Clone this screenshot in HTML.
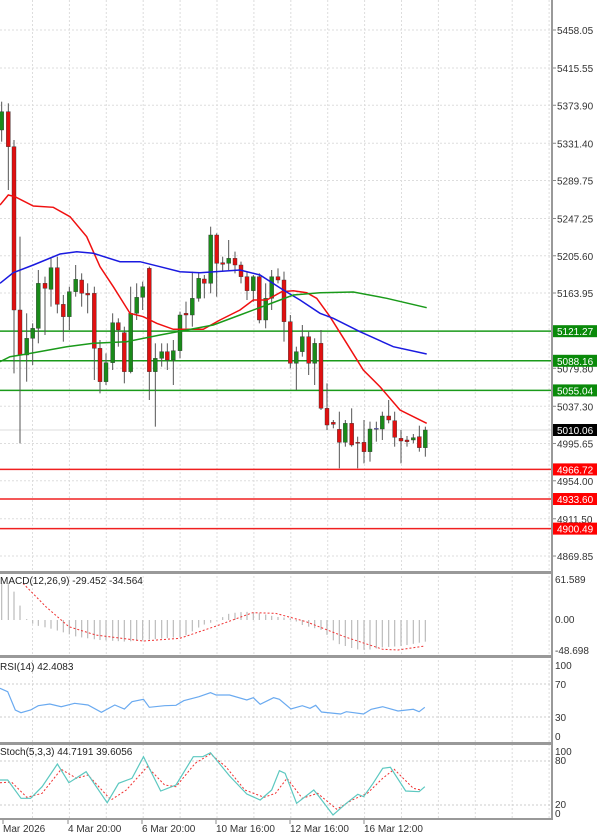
<!DOCTYPE html>
<html><head><meta charset="utf-8"><style>
html,body{margin:0;padding:0;background:#fff;width:600px;height:836px;overflow:hidden}
svg{display:block;font-family:"Liberation Sans",sans-serif;font-size:10px}
</style></head><body>
<svg id="s" width="600" height="836" viewBox="0 0 600 836" xmlns="http://www.w3.org/2000/svg"></svg>
<script>
const s=document.getElementById('s');let h='';
const add=t=>h+=t;
const K=2.613;
// vertical grid
for(let x=32.5;x<552;x+=36.9){const X=x.toFixed(1);add(`<line x1="${X}" y1="0" x2="${X}" y2="820" stroke="#ddd" stroke-dasharray="2,2"/>`);}
// price scale
const py=p=>30+(5458.05-p)*0.8943;
const labs=[5458.05,5415.55,5373.90,5331.40,5289.75,5247.25,5205.60,5163.95,5079.80,5037.30,4995.65,4954.00,4911.50,4869.85];
labs.forEach(p=>{const y=py(p);add(`<line x1="0" y1="${y}" x2="552" y2="${y}" stroke="#ddd" stroke-dasharray="2,2"/><line x1="552" y1="${y}" x2="556" y2="${y}" stroke="#888"/><text x="557" y="${y+4}" fill="#333">${p.toFixed(2)}</text>`);});
add(`<line x1="0" y1="430" x2="552" y2="430" stroke="#ddd"/>`);
const zx=v=>v/3, zy=v=>80+v/3;
function poly(pts,col,w,dash,fx,fy){return `<polyline fill="none" stroke="${col}" stroke-width="${w}" ${dash?'stroke-dasharray="'+dash+'"':''} points="${pts.map(p=>fx(p[0]).toFixed(1)+','+fy(p[1]).toFixed(1)).join(' ')}"/>`;}
[[5121.27,'#1a9a1a','#0a8a0a'],[5088.16,'#1a9a1a','#0a8a0a'],[5055.04,'#1a9a1a','#0a8a0a'],[4966.72,'#f02020','#f00'],[4933.60,'#f02020','#f00'],[4900.49,'#f02020','#f00']].forEach(([p,c,bg])=>{const y=py(p);add(`<line x1="0" y1="${y}" x2="552" y2="${y}" stroke="${c}" stroke-width="1.5"/><rect x="553" y="${y-6}" width="44" height="12" fill="${bg}"/><text x="557" y="${y+4}" fill="#fff">${p.toFixed(2)}</text>`);});
add(`<rect x="553" y="424" width="44" height="12" fill="#000"/><text x="557" y="434" fill="#fff">5010.06</text>`);
const C=[[5,150,95,65,185],[25,95,200,70,330],[42,200,690,180,880],[60,690,825,470,1090],[80,825,775,700,905],[98,775,745,730,855],[115,745,610,570,790],[135,610,625,590,765],[153,628,563,535,680],[172,563,673,530,700],[190,673,710,645,785],[208,710,635,620,750],[227,635,598,555,650],[245,600,640,580,680],[263,640,645,610,700],[283,640,805,620,900],[300,805,905,780,940],[318,905,848,820,915],[338,848,728,700,870],[355,728,750,715,800],[373,758,875,740,910],[392,875,700,620,880],[410,700,652,610,720],[428,652,620,605,690],[448,565,875,560,960],[466,875,835,790,1040],[485,835,815,790,860],[502,815,840,790,870],[520,840,812,780,915],[540,812,705,695,835],[558,700,705,665,745],[577,705,655,575,740],[596,655,595,580,665],[613,597,610,585,655],[632,610,465,440,640],[650,465,550,460,650],[668,548,553,530,575],[686,550,535,480,570],[705,535,555,515,580],[723,555,590,545,610],[741,590,632,575,660],[760,632,590,585,665],[778,590,720,580,730],[797,720,655,610,745],[815,655,590,570,690],[834,590,600,565,610],[852,600,725,575,785],[871,725,850,705,865],[889,850,815,800,930],[907,815,770,735,830],[926,770,850,755,885],[944,850,790,775,915],[963,790,985,750,990],[981,985,1035,910,1050],[1000,1027,1033,1020,1045],[1018,1048,1087,995,1165],[1036,1087,1030,1020,1100],[1055,1030,1095,985,1100],[1073,1087,1090,1070,1165],[1092,1087,1115,1020,1150],[1110,1115,1047,1025,1145],[1129,1045,1045,1025,1085],[1147,1047,1008,995,1080],[1166,1008,1020,960,1030],[1184,1022,1072,995,1100],[1203,1075,1083,1050,1150],[1221,1080,1085,1068,1100],[1240,1080,1073,1062,1090],[1258,1070,1103,1037,1115],[1276,1103,1050,1040,1130]];
C.forEach(([x,o,c,hh,l],i)=>{const X=zx(x);const up=c<o;const col=i==61?'#6a6aff':(up?'#1a8a1a':'#e01010');
add(`<line x1="${X}" y1="${zy(hh)}" x2="${X}" y2="${zy(l)}" stroke="#555" stroke-width="1"/>`);
const t=zy(Math.min(o,c)),b=zy(Math.max(o,c));add(`<rect x="${X-2}" y="${t}" width="4" height="${Math.max(1,b-t)}" fill="${col}" stroke="#333" stroke-width="0.4"/>`);});
add(poly([[0,375],[25,345],[45,350],[100,378],[160,382],[210,410],[260,470],[300,560],[340,620],[390,700],[430,710],[470,730],[520,748],[560,748],[610,748],[660,720],[720,690],[760,660],[800,660],[845,635],[880,632],[920,638],[950,655],[990,710],[1040,790],[1090,870],[1140,920],[1200,990],[1280,1030]],'#f01010',1.5,'',zx,zy));
add(poly([[0,610],[40,578],[100,555],[180,522],[230,515],[280,520],[360,545],[420,545],[480,560],[540,575],[600,578],[720,570],[780,585],[850,630],[900,660],[960,700],[1000,715],[1080,755],[1180,800],[1280,822]],'#1a1ae0',1.5,'',zx,zy));
add(poly([[0,845],[30,830],[80,822],[200,800],[280,790],[380,785],[480,765],[560,750],[640,735],[720,705],[800,675],[880,645],[960,638],[1060,636],[1160,655],[1280,683]],'#1a9a1a',1.5,'',zx,zy));
const fx=v=>v/K, fy=v=>560+v/3;
[[571,574],[655,658],[742,745]].forEach(([a,b])=>add(`<rect x="0" y="${a}" width="552" height="${b-a}" fill="#999"/>`));
add(`<line x1="552" y1="0" x2="552" y2="820" stroke="#999" stroke-width="2"/><line x1="0" y1="819" x2="552" y2="819" stroke="#999" stroke-width="2"/>`);
const H=[[5,70],[20,70],[40,100],[55,145],[70,178],[90,195],[130,205],[160,215],[200,230],[260,240],[330,245],[380,240],[430,235],[480,230],[530,195],[560,185],[600,160],[640,155],[680,160],[720,170],[760,175],[790,195],[840,210],[880,250],[930,268],[960,270],[1000,262],[1050,258],[1110,245]];
function interp(A,x){if(x<=A[0][0])return A[0][1];for(let i=0;i<A.length-1;i++){if(x>=A[i][0]&&x<=A[i+1][0]){const t=(x-A[i][0])/(A[i+1][0]-A[i][0]);return A[i][1]+t*(A[i+1][1]-A[i][1]);}}return A[A.length-1][1];}
C.forEach(([x])=>{const px=zx(x);const v=interp(H,px*K);add(`<line x1="${px}" y1="620" x2="${px}" y2="${fy(v)}" stroke="#bbb" stroke-width="1.2"/>`);});
add(poly([[60,70],[120,140],[180,200],[250,225],[375,243],[470,235],[560,200],[660,158],[720,160],[800,185],[900,230],[1000,268],[1040,270],[1110,258]],'#f03030',1,'2,2',fx,fy));
add(`<text x="0" y="584" fill="#222">MACD(12,26,9) -29.452 -34.564</text>`);
[[61.589,583],['0.00',623],[-48.698,654]].forEach(([t,y])=>add(`<text x="555" y="${y}" fill="#333">${t}</text>`));
[[684],[717]].forEach(([y])=>add(`<line x1="0" y1="${y}" x2="552" y2="${y}" stroke="#ccc" stroke-dasharray="2,2"/>`));
add(poly([[0,385],[20,395],[40,450],[55,458],[80,450],[100,437],[130,432],[160,440],[195,430],[230,435],[265,457],[300,435],[325,447],[345,425],[375,418],[390,442],[430,437],[460,436],[480,422],[520,410],[550,398],[565,405],[600,405],[645,420],[662,413],[680,433],[715,413],[730,418],[760,447],[790,437],[810,445],[825,436],[840,456],[890,462],[905,455],[950,462],[970,448],[1000,440],[1040,453],[1080,448],[1095,455],[1110,442]],'#6aaaf0',1.2,'',fx,fy));
add(`<text x="0" y="670" fill="#222">RSI(14) 42.4083</text>`);
[[100,669],[70,688],[30,721],[0,740]].forEach(([t,y])=>add(`<text x="555" y="${y}" fill="#333">${t}</text>`));
[[761],[805]].forEach(([y])=>add(`<line x1="0" y1="${y}" x2="552" y2="${y}" stroke="#ccc" stroke-dasharray="2,2"/>`));
add(poly([[0,668],[30,666],[70,712],[110,700],[160,628],[200,655],[230,645],[290,720],[330,690],[385,620],[430,675],[460,680],[510,610],[550,582],[590,620],[640,690],[690,712],[720,700],[750,655],[790,715],[830,700],[880,748],[920,720],[960,700],[1000,655],[1030,628],[1080,685],[1100,690]],'#f03030',1,'2,2',fx,fy));
add(poly([[0,660],[20,660],[55,715],[80,715],[110,680],[150,612],[180,668],[225,635],[280,728],[310,670],[345,655],[375,590],[420,693],[460,675],[505,590],[530,590],[550,578],[600,648],[645,702],[680,720],[710,690],[730,632],[745,640],[775,730],[820,690],[835,712],[870,765],[905,730],[935,703],[950,710],[975,670],[1000,625],[1020,622],[1060,693],[1095,695],[1110,680]],'#5cc8c0',1.2,'',fx,fy));
add(`<text x="0" y="755" fill="#222">Stoch(5,3,3) 44.7191 39.6056</text>`);
[[100,755],[80,764],[20,808],[0,817]].forEach(([t,y])=>add(`<text x="555" y="${y}" fill="#333">${t}</text>`));
[['Mar 2026',3],['4 Mar 20:00',68],['6 Mar 20:00',142],['10 Mar 16:00',216],['12 Mar 16:00',290],['16 Mar 12:00',364]].forEach(([t,x])=>add(`<line x1="${x}" y1="820" x2="${x}" y2="824" stroke="#888"/><text x="${x}" y="832" fill="#333">${t}</text>`));
s.innerHTML=h;
</script>
</body></html>
